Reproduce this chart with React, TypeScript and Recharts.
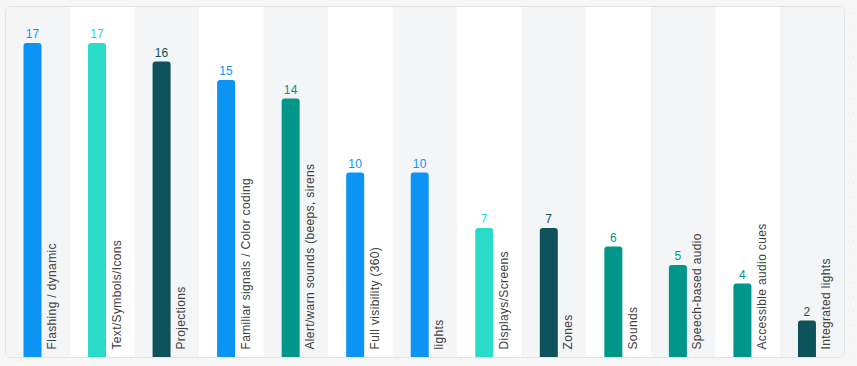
import React from 'react';
import { BarChart, Bar, XAxis, YAxis, ReferenceArea, Rectangle } from 'recharts';

const categories = [
  'Flashing / dynamic',
  'Text/Symbols/Icons',
  'Projections',
  'Familiar signals / Color coding',
  'Alert/warn sounds (beeps, sirens',
  'Full visibility (360)',
  'lights',
  'Displays/Screens',
  'Zones',
  'Sounds',
  'Speech-based audio',
  'Accessible audio cues',
  'Integrated lights',
];

const counts = [17, 17, 16, 15, 14, 10, 10, 7, 7, 6, 5, 4, 2];

const BLUE = '#0b94f3';
const TURQ = '#29dbc8';
const DARK = '#0e525c';
const TEAL = '#00968a';

const barColors = [BLUE, TURQ, DARK, BLUE, TEAL, BLUE, BLUE, TURQ, DARK, TEAL, TEAL, TEAL, DARK];

const bandFills = ['#f4f5f7', '#ffffff'];

const yTicks = [0, 19];

const data = categories.map((name, i) => ({ name, value: counts[i], color: barColors[i] }));

const FONT = '"Liberation Sans", Arial, Helvetica, sans-serif';

const BarShape = (props: any) => {
  const { x, y, width, height, payload } = props;
  if (x == null || width == null) return null;
  const bottom = y + height;
  const tx = x + width + 14.5;
  const ty = bottom - 8;
  return (
    <g>
      <Rectangle x={x} y={y} width={width} height={height} radius={[3, 3, 0, 0]} fill={payload.color} />
      <text
        x={x + width / 2}
        y={y - 5}
        textAnchor="middle"
        fill={payload.color}
        fontSize={12}
        fontFamily={FONT}
        letterSpacing={0.2}
      >
        {payload.value}
      </text>
      <text
        x={tx}
        y={ty}
        transform={`rotate(-90 ${tx} ${ty})`}
        textAnchor="start"
        fill="#404040"
        fontSize={12}
        fontFamily={FONT}
        letterSpacing={0.35}
      >
        {payload.name}
      </text>
    </g>
  );
};

export default function App() {
  return (
    <div
      style={{
        position: 'absolute',
        left: 0,
        top: 0,
        width: 857,
        height: 366,
        background: '#f6f6f6',
        overflow: 'hidden',
      }}
    >
      <div
        style={{
          position: 'absolute',
          left: 5,
          top: 6,
          width: 840,
          height: 352,
          boxSizing: 'border-box',
          border: '1px solid #e1e3e6',
          borderRadius: 6,
          overflow: 'hidden',
          background: '#ffffff',
        }}
      >
        <div style={{ position: 'absolute', left: -6, top: -7 }}>
          <BarChart
            width={857}
            height={366}
            data={data}
            margin={{ top: 6, left: 5.5, right: 12.5, bottom: 8.5 }}
            barGap={0}
          >
            <XAxis dataKey="name" hide />
            <YAxis hide domain={[yTicks[0], yTicks[1]]} ticks={yTicks} />
            {categories.map((c, i) => (
              <ReferenceArea
                key={c}
                x1={c}
                x2={c}
                fill={bandFills[i % 2]}
                fillOpacity={1}
                stroke="none"
                ifOverflow="visible"
              />
            ))}
            <Bar dataKey="value" barSize={18} isAnimationActive={false} shape={BarShape} />
            <Bar dataKey="value" barSize={10} isAnimationActive={false} fill="transparent" />
          </BarChart>
        </div>
      </div>
      <div
        style={{
          position: 'absolute',
          left: 853,
          top: 13,
          width: 1,
          height: 342,
          backgroundImage:
            'repeating-linear-gradient(to bottom, #d9d9d9 0px, #d9d9d9 1px, transparent 1px, transparent 14.17px)',
        }}
      />
    </div>
  );
}
